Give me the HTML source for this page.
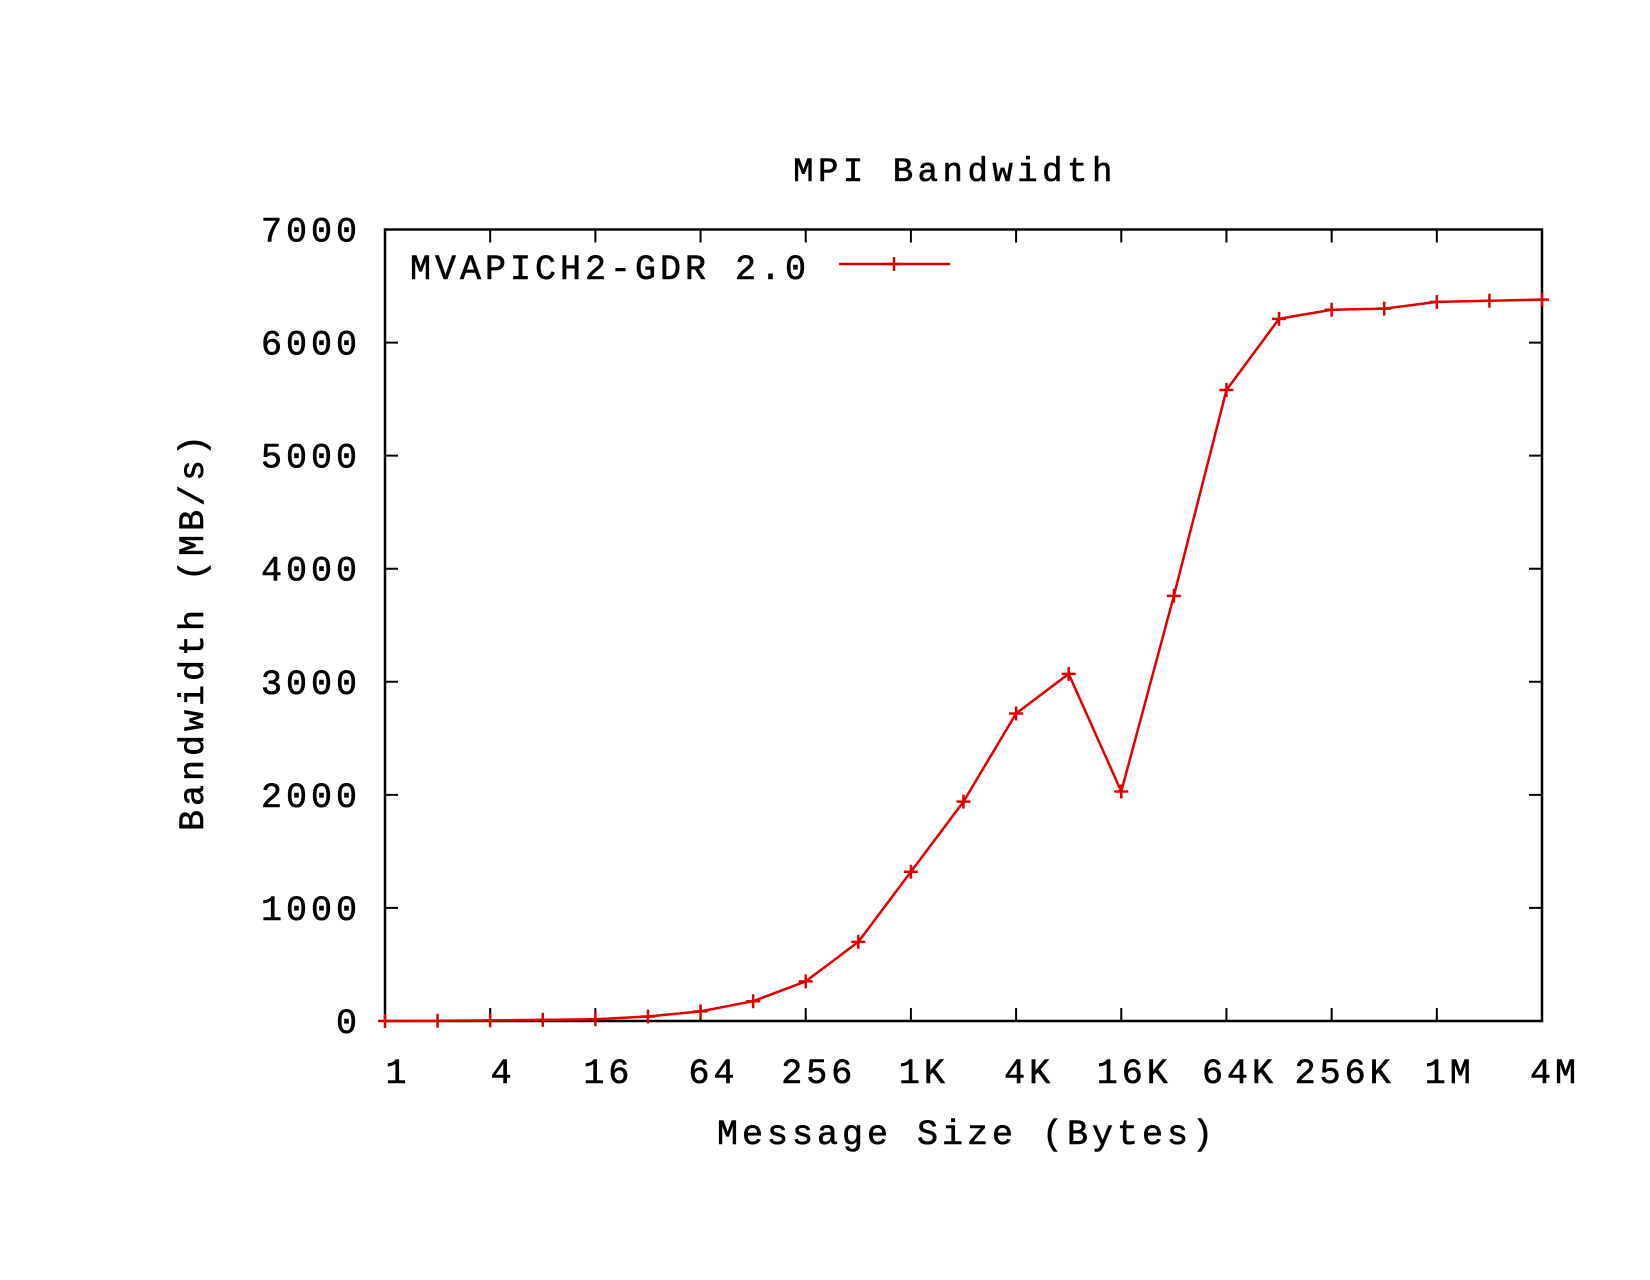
<!DOCTYPE html>
<html><head><meta charset="utf-8"><style>
html,body{margin:0;padding:0;background:#fff;}
svg text{font-family:"Liberation Mono","DejaVu Sans Mono",monospace;fill:#000;stroke:#000;stroke-width:0.6;letter-spacing:4px;}
</style></head><body>
<svg id="chart" width="1650" height="1275" viewBox="0 0 1650 1275" xmlns="http://www.w3.org/2000/svg">
<text x="955" y="181" font-size="34" text-anchor="middle" style="letter-spacing:4.5px">MPI Bandwidth</text>
<g id="axes"></g>
<g id="series"></g>
<text x="967" y="1144" font-size="35" text-anchor="middle">Message Size (Bytes)</text>
<text transform="translate(203,631) rotate(-90)" font-size="35" text-anchor="middle">Bandwidth (MB/s)</text>
<g>
<text x="410" y="279" font-size="35">MVAPICH2-GDR 2.0</text>
<line x1="839" y1="264" x2="950" y2="264" stroke="#e00000" stroke-width="2.5"/>
<path d="M894,257V271M887,264H901" stroke="#e00000" stroke-width="2.5"/>
</g>
</svg>
<script>
const sizeExponents=[0,1,2,3,4,5,6,7,8,9,10,11,12,13,14,15,16,17,18,19,20,21,22];
const bandwidth=[0,2,5,10,15,40,85,175,350,700,1320,1940,2720,3070,2030,3760,5580,6210,6290,6300,6360,6370,6380];
const xTickExponents=[0,2,4,6,8,10,12,14,16,18,20,22];
const xTickLabels=["1","4","16","64","256","1K","4K","16K","64K","256K","1M","4M"];
const yTicks=[0,1000,2000,3000,4000,5000,6000,7000];

const L=385,R=1542,T=229.5,B=1021;
const xMin=0,xMax=22,yMin=0,yMax=7000;
const xs=e=>L+(e-xMin)/(xMax-xMin)*(R-L);
const ys=v=>B-(v-yMin)/(yMax-yMin)*(B-T);
const NS="http://www.w3.org/2000/svg";
const axes=document.getElementById('axes');
const ser=document.getElementById('series');
function mk(tag,attrs,parent){const el=document.createElementNS(NS,tag);for(const k in attrs)el.setAttribute(k,attrs[k]);parent.appendChild(el);return el;}

const frame=mk('rect',{x:L,y:T,width:R-L,height:B-T,fill:'none',stroke:'#000','stroke-width':2.5},axes);



yTicks.forEach(v=>{
  const y=ys(v);
  const t=mk('path',{d:`M${L},${y}H${L+13}M${R},${y}H${R-13}`,stroke:'#000','stroke-width':2},axes);
  
  
  const lb=mk('text',{x:L-24,y:y+12,'font-size':35,'text-anchor':'end'},axes);
  lb.textContent=v;
  
  
});
xTickExponents.forEach((e,i)=>{
  const x=xs(e);
  const t=mk('path',{d:`M${x},${B}V${B-13}M${x},${T}V${T+13}`,stroke:'#000','stroke-width':2},axes);
  
  
  const lb=mk('text',{x:x+13,y:1083,'font-size':35,'text-anchor':'middle'},axes);
  lb.textContent=xTickLabels[i];
  
  
});

const pts=sizeExponents.map((e,i)=>[xs(e),ys(bandwidth[i])]);
const line=mk('polyline',{points:pts.map(p=>p.join(',')).join(' '),fill:'none',stroke:'#e00000','stroke-width':2.5},ser);


pts.forEach(p=>{
  const m=mk('path',{d:`M${p[0]},${p[1]-7}V${p[1]+7}M${p[0]-7},${p[1]}H${p[0]+7}`,stroke:'#e00000','stroke-width':2.5},ser);
  
  
});
</script>
</body></html>
